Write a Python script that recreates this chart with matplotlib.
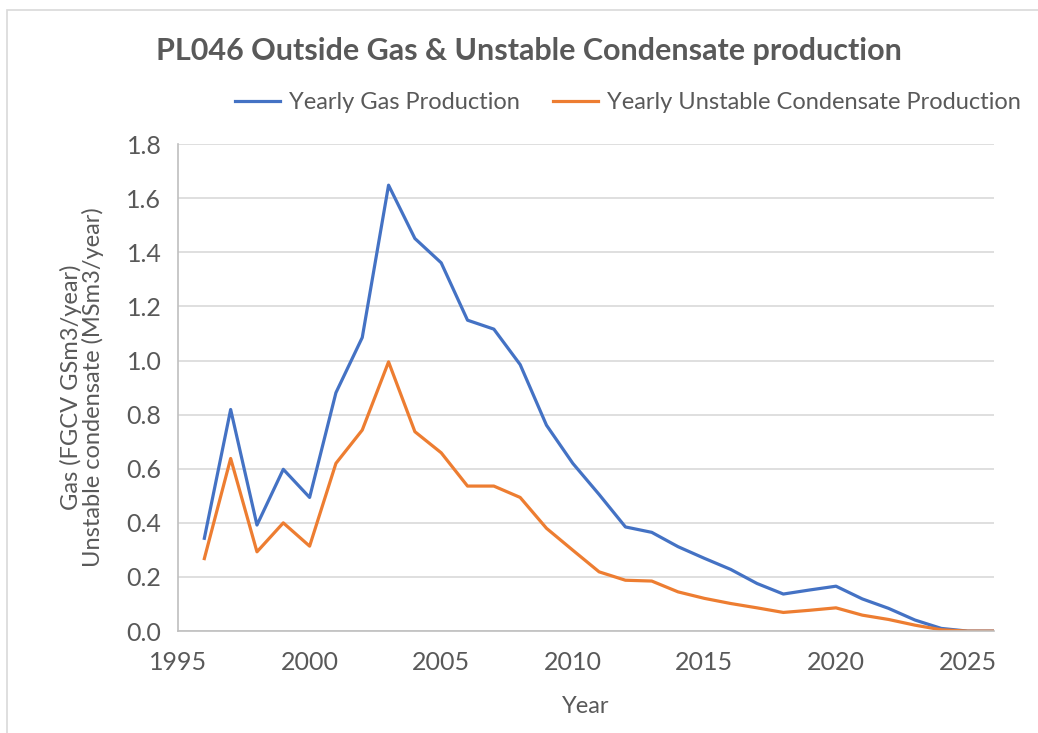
import matplotlib.pyplot as plt
from matplotlib.patches import Rectangle

years = list(range(1996, 2027))
gas = [0.343, 0.819, 0.392, 0.598, 0.494, 0.881, 1.085, 1.648, 1.451, 1.361,
       1.149, 1.116, 0.985, 0.761, 0.62, 0.505, 0.385, 0.365, 0.312, 0.269,
       0.228, 0.176, 0.137, 0.152, 0.166, 0.119, 0.084, 0.041, 0.01, 0.0, 0.0]
condensate = [0.268, 0.638, 0.293, 0.400, 0.314, 0.620, 0.743, 0.995, 0.737, 0.659,
              0.536, 0.536, 0.494, 0.380, 0.299, 0.219, 0.188, 0.185, 0.145, 0.121,
              0.102, 0.086, 0.069, 0.077, 0.086, 0.059, 0.043, 0.022, 0.005, 0.0, 0.0]

text_col = "#595959"
plt.rcParams['font.family'] = ['Lato', 'DejaVu Sans']

fig = plt.figure(figsize=(10.38, 7.33), dpi=100)
ax = fig.add_axes([0.1715, 0.139, 0.786, 0.6645])

ax.plot(years, gas, color="#4472C4", lw=2.3, label="Yearly Gas Production")
ax.plot(years, condensate, color="#ED7D31", lw=2.3, label="Yearly Unstable Condensate Production")

ax.set_xlim(1995, 2026)
ax.set_ylim(0, 1.8)
ax.set_xticks(range(1995, 2030, 5))
ax.set_yticks([i * 0.2 for i in range(10)])
ax.set_yticklabels([f"{i * 0.2:.1f}" for i in range(10)])
ax.tick_params(labelsize=18, colors=text_col, length=0)
ax.tick_params(axis="x", pad=14)
ax.tick_params(axis="y", pad=12)
ax.grid(axis="y", color="#d9d9d9", lw=1.2)
ax.set_axisbelow(True)
for s in ["top", "right"]:
    ax.spines[s].set_visible(False)
for s in ["left", "bottom"]:
    ax.spines[s].set_color("#bfbfbf")
    ax.spines[s].set_linewidth(1.2)

ax.set_xlabel("Year", fontsize=17, color=text_col, labelpad=16)
ax.set_ylabel("Gas (FGCV GSm3/year)\nUnstable condensate (MSm3/year)",
              fontsize=17, color=text_col, labelpad=16, linespacing=1.0)

fig.text(0.51, 0.93, "PL046 Outside Gas & Unstable Condensate production",
         ha="center", va="center", fontsize=22, fontweight="bold", color=text_col)
fig.legend(loc="center", bbox_to_anchor=(0.605, 0.86), ncol=2, frameon=False,
           fontsize=17, labelcolor=text_col, handlelength=1.9, handletextpad=0.4,
           columnspacing=1.4)

fig.patches.append(Rectangle((0.007, -0.01), 1.1, 0.996, transform=fig.transFigure,
                             fill=False, edgecolor="#d9d9d9", lw=1.2))

fig.savefig("out.png", dpi=100)
